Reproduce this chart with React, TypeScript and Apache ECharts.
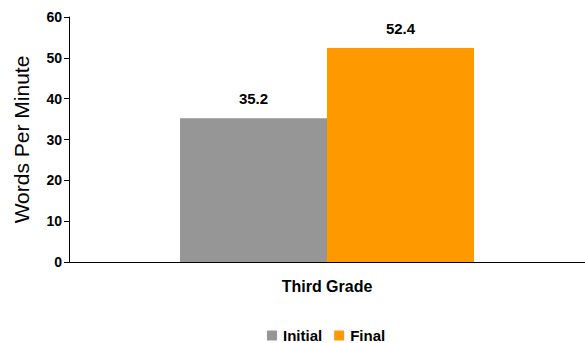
import React, { useEffect, useRef } from "react";
import * as echarts from "echarts";

const categories = ["Third Grade"];
const initialValues = [35.2];
const finalValues = [52.4];
const yTicks = { min: 0, max: 60, interval: 10 };

export default function App() {
  const ref = useRef<HTMLDivElement>(null);
  useEffect(() => {
    if (!ref.current) return;
    const chart = echarts.init(ref.current, null, { renderer: "svg" });
    const font = "'Liberation Sans', Arial, sans-serif";
    const labelStyle = { fontFamily: font, fontWeight: "bold" as const, fontSize: 14, color: "#000" };
    chart.setOption({
      animation: false,
      grid: { left: 69, right: 0, top: 17, bottom: 81, containLabel: false },
      legend: {
        top: 323,
        left: 262,
        itemWidth: 10,
        itemHeight: 10,
        itemGap: 12,
        icon: "rect",
        textStyle: { ...labelStyle, fontSize: 15, padding: [0, 0, 0, 1] },
        data: ["Initial", "Final"],
      },
      xAxis: {
        type: "category",
        data: categories,
        axisLine: { lineStyle: { color: "#000", width: 1 } },
        axisTick: { show: false },
        axisLabel: { ...labelStyle, fontSize: 16, margin: 16 },
      },
      yAxis: {
        type: "value",
        min: yTicks.min,
        max: yTicks.max,
        interval: yTicks.interval,
        name: "Words Per Minute",
        nameLocation: "middle",
        nameGap: 37,
        nameTextStyle: { fontFamily: font, fontSize: 21, color: "#000" },
        axisLine: { show: true, lineStyle: { color: "#000", width: 1 } },
        axisTick: { show: true, length: 5, lineStyle: { color: "#000" } },
        splitLine: { show: false },
        axisLabel: { ...labelStyle, margin: 7 },
      },
      series: [
        {
          name: "Initial",
          type: "bar",
          data: initialValues,
          barWidth: 147,
          barGap: "0%",
          itemStyle: { color: "#969696" },
          label: { show: true, position: "top", distance: 12, ...labelStyle, fontSize: 15 },
        },
        {
          name: "Final",
          type: "bar",
          data: finalValues,
          barWidth: 147,
          barGap: "0%",
          itemStyle: { color: "#FF9900" },
          label: { show: true, position: "top", distance: 12, ...labelStyle, fontSize: 15 },
        },
      ],
    });
    return () => chart.dispose();
  }, []);
  return <div ref={ref} style={{ width: 585, height: 343, position: "absolute", left: 0, top: 0 }} />;
}
